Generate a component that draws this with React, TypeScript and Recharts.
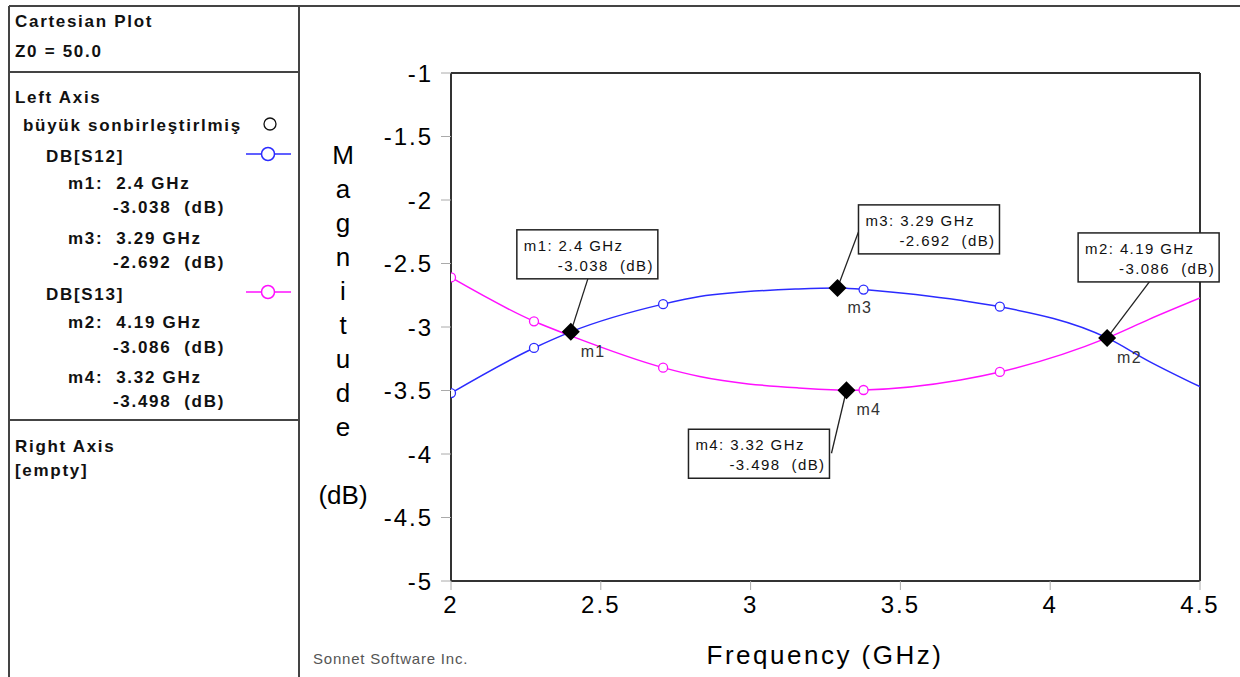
import React from 'react';
import { ComposedChart, Line, XAxis, YAxis, ReferenceDot, ReferenceLine } from 'recharts';

// sweep points (GHz / dB)
const freqGHz = [2.0, 2.277, 2.4, 2.708, 2.83, 3.16, 3.29, 3.32, 3.377, 3.7, 3.832, 4.19, 4.33, 4.5];
const s12dB = [-3.52, -3.165, -3.038, -2.82, -2.76, -2.7, -2.692, -2.694, -2.705, -2.79, -2.84, -3.086, -3.27, -3.47];
const s13dB = [-2.61, -2.955, -3.07, -3.32, -3.39, -3.48, -3.496, -3.498, -3.496, -3.417, -3.354, -3.086, -2.94, -2.772];

// frequencies where the analysis symbols (hollow circles) sit
const symbolFreqs = [2.0, 2.277, 2.708, 3.377, 3.832];

const xTicks = [2, 2.5, 3, 3.5, 4, 4.5];
const yTicks = [-5, -4.5, -4, -3.5, -3, -2.5, -2, -1.5, -1];

const markerNames = ['m1', 'm3', 'm2', 'm4'];
const markerFreqs = [2.4, 3.29, 4.19, 3.32];
const markerValues = [-3.038, -2.692, -3.086, -3.498];
const markerFreqText = ['2.4', '3.29', '4.19', '3.32'];
const markerValueText = ['-3.038', '-2.692', '-3.086', '-3.498'];

// where each readout box sits, relative to its marker
const boxOffsets = [
  { dx: -54, dy: -102, lx: 17, ly: -53 },
  { dx: 21, dy: -83, lx: 21, ly: -56 },
  { dx: -29, dy: -105, lx: 43, ly: -57 },
  { dx: -158, dy: 39, lx: -15, ly: 63 },
];

const BLUE = '#2b2bff';
const MAGENTA = '#ff10ff';
const FONT = '"Liberation Sans", Arial, sans-serif';

const rows = freqGHz.map((f, i) => ({ freq: f, s12: s12dB[i], s13: s13dB[i] }));

const symbolDot = (color: string) => (props: any) => {
  const { cx, cy, payload, index } = props;
  if (!symbolFreqs.includes(payload.freq)) return <g key={`n-${index}`} />;
  return <circle key={`s-${index}`} cx={cx} cy={cy} r={4.5} fill='#fff' stroke={color} strokeWidth={1.3} />;
};

const XTick = ({ x, y, payload }: any) => (
  <text x={x} y={y} dy='0.71em' textAnchor='middle' fontSize={24} fontFamily={FONT} letterSpacing={2} fill='#000'>
    {payload.value}
  </text>
);

const YTick = ({ x, y, payload }: any) => (
  <text x={x} y={y} dy='0.36em' textAnchor='end' fontSize={24} fontFamily={FONT} letterSpacing={2} fill='#000'>
    {payload.value}
  </text>
);

const markerShape = (i: number) => (props: any) => {
  const { cx, cy } = props;
  const b = boxOffsets[i];
  const bx = cx + b.dx;
  const by = cy + b.dy;
  return (
    <g>
      <line x1={cx} y1={cy} x2={cx + b.lx} y2={cy + b.ly} stroke='#222' strokeWidth={1.3} />
      <rect x={bx} y={by} width={141} height={49} fill='#fff' stroke='#222' strokeWidth={1.5} />
      <text x={bx + 7} y={by + 21} fontSize={15} fontFamily={FONT} letterSpacing={1.4} fill='#111'>
        {`${markerNames[i]}: ${markerFreqText[i]} GHz`}
      </text>
      <text
        x={bx + 137}
        y={by + 41}
        textAnchor='end'
        fontSize={15}
        fontFamily={FONT}
        letterSpacing={1.4}
        fill='#111'
        style={{ whiteSpace: 'pre' }}
      >
        {`${markerValueText[i]}  (dB)`}
      </text>
      <path d={`M${cx},${cy - 9} L${cx + 9},${cy} L${cx},${cy + 9} L${cx - 9},${cy} Z`} fill='#000' />
      <text x={cx + 10} y={cy + 25} fontSize={16} fontFamily={FONT} letterSpacing={1.2} fill='#333'>
        {markerNames[i]}
      </text>
    </g>
  );
};

const titleLetters = ['M', 'a', 'g', 'n', 'i', 't', 'u', 'd', 'e'];

// left info panel lines: [text, x, baseline]
const panelLines: [string, number, number][] = [
  ['Cartesian Plot', 15, 27],
  ['Z0 = 50.0', 15, 57],
  ['Left Axis', 15, 103],
  ['büyük sonbirleştirlmiş', 23, 131],
  ['DB[S12]', 46, 162],
  ['m1:  2.4 GHz', 68, 189],
  ['-3.038  (dB)', 113, 213],
  ['m3:  3.29 GHz', 68, 244],
  ['-2.692  (dB)', 113, 268],
  ['DB[S13]', 46, 300],
  ['m2:  4.19 GHz', 68, 328],
  ['-3.086  (dB)', 113, 353],
  ['m4:  3.32 GHz', 68, 383],
  ['-3.498  (dB)', 113, 407],
  ['Right Axis', 15, 452],
  ['[empty]', 15, 476],
];

export default function App() {
  return (
    <div style={{ position: 'absolute', left: 0, top: 0, width: 1240, height: 677, background: '#fff' }}>
      <div style={{ position: 'absolute', left: 0, top: 0 }}>
        <ComposedChart width={1240} height={677} data={rows} margin={{ top: 73, right: 40, bottom: 56, left: 391 }}>
          <XAxis
            dataKey='freq'
            type='number'
            domain={[2, 4.5]}
            ticks={xTicks}
            height={40}
            tick={<XTick />}
            tickSize={9}
            tickMargin={6}
            axisLine={{ stroke: '#333', strokeWidth: 2 }}
            tickLine={{ stroke: '#aaa' }}
            allowDataOverflow
          />
          <YAxis
            type='number'
            domain={[-5, -1]}
            ticks={yTicks}
            width={60}
            tick={<YTick />}
            tickSize={10}
            tickMargin={8}
            axisLine={{ stroke: '#333', strokeWidth: 2 }}
            tickLine={{ stroke: '#aaa' }}
            allowDataOverflow
          />
          <ReferenceLine y={-1} stroke='#333' strokeWidth={2} />
          <ReferenceLine x={4.5} stroke='#333' strokeWidth={2} />
          <Line
            dataKey='s12'
            type='monotone'
            stroke={BLUE}
            strokeWidth={1.5}
            dot={symbolDot(BLUE)}
            activeDot={false}
            isAnimationActive={false}
          />
          <Line
            dataKey='s13'
            type='monotone'
            stroke={MAGENTA}
            strokeWidth={1.5}
            dot={symbolDot(MAGENTA)}
            activeDot={false}
            isAnimationActive={false}
          />
          {markerNames.map((m, i) => (
            <ReferenceDot key={m} x={markerFreqs[i]} y={markerValues[i]} r={9} shape={markerShape(i)} />
          ))}
        </ComposedChart>
      </div>

      <svg width={1240} height={677} style={{ position: 'absolute', left: 0, top: 0, pointerEvents: 'none' }}>
        {/* frame of the info panel */}
        <line x1={9} y1={6} x2={1240} y2={6} stroke='#444' strokeWidth={2} />
        <line x1={9} y1={6} x2={9} y2={677} stroke='#444' strokeWidth={2} />
        <line x1={299} y1={6} x2={299} y2={677} stroke='#444' strokeWidth={2} />
        <line x1={9} y1={72} x2={299} y2={72} stroke='#444' strokeWidth={2} />
        <line x1={9} y1={420} x2={299} y2={420} stroke='#444' strokeWidth={2} />

        {panelLines.map(([t, x, y]) => (
          <text
            key={t + y}
            x={x}
            y={y}
            fontSize={17}
            fontWeight='bold'
            fontFamily={FONT}
            letterSpacing={1.7}
            fill='#111'
            style={{ whiteSpace: 'pre' }}
          >
            {t}
          </text>
        ))}
        <circle cx={270} cy={124} r={6} fill='#fff' stroke='#111' strokeWidth={1.3} />
        <line x1={246} y1={154} x2={291} y2={154} stroke={BLUE} strokeWidth={1.5} />
        <circle cx={268} cy={154} r={6.5} fill='#fff' stroke={BLUE} strokeWidth={1.5} />
        <line x1={246} y1={292} x2={291} y2={292} stroke={MAGENTA} strokeWidth={1.5} />
        <circle cx={268} cy={292} r={6.5} fill='#fff' stroke={MAGENTA} strokeWidth={1.5} />

        {/* axis titles */}
        {titleLetters.map((c, i) => (
          <text key={c + i} x={343} y={164 + i * 34} textAnchor='middle' fontSize={26} fontFamily={FONT} fill='#000'>
            {c}
          </text>
        ))}
        <text x={343} y={504} textAnchor='middle' fontSize={26} fontFamily={FONT} fill='#000'>
          (dB)
        </text>
        <text x={825} y={664} textAnchor='middle' fontSize={26} fontFamily={FONT} letterSpacing={2.5} fill='#000'>
          Frequency (GHz)
        </text>
        <text x={313} y={664} fontSize={15} fontFamily={FONT} letterSpacing={0.8} fill='#555'>
          Sonnet Software Inc.
        </text>
      </svg>
    </div>
  );
}
